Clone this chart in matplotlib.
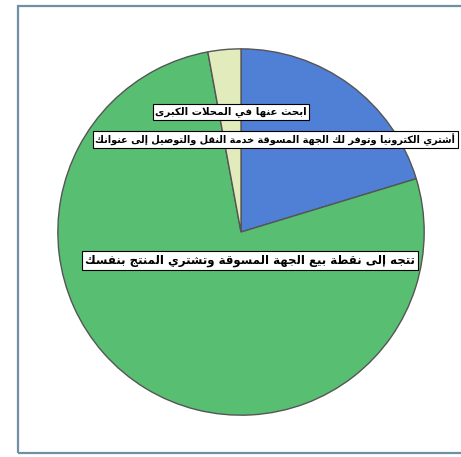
import matplotlib.pyplot as plt
from matplotlib.patches import Rectangle

# نتائج السؤال: كيف تشتري المنتج؟
labels = [
    'أشتري الكترونيا وتوفر لك الجهة المسوقة خدمة النقل والتوصيل إلى عنوانك',
    'تتجه إلى نقطة بيع الجهة المسوقة وتشتري المنتج بنفسك',
    'ابحث عنها في المحلات الكبرى',
]
values = [20.3, 76.8, 2.9]
colors = ['#4f80d6', '#58bf72', '#e2ebbb']

# matplotlib does not shape Arabic, so map letters to presentation forms
# (isolated, final, initial, medial) and reverse for right-to-left display
DUAL = {'ب': 0xFE8F, 'ت': 0xFE95, 'ث': 0xFE99, 'ج': 0xFE9D, 'ح': 0xFEA1,
        'خ': 0xFEA5, 'س': 0xFEB1, 'ش': 0xFEB5, 'ص': 0xFEB9, 'ض': 0xFEBD,
        'ط': 0xFEC1, 'ظ': 0xFEC5, 'ع': 0xFEC9, 'غ': 0xFECD, 'ف': 0xFED1,
        'ق': 0xFED5, 'ك': 0xFED9, 'ل': 0xFEDD, 'م': 0xFEE1, 'ن': 0xFEE5,
        'ه': 0xFEE9, 'ي': 0xFEF1}
RIGHT = {'ا': 0xFE8D, 'أ': 0xFE83, 'إ': 0xFE87, 'آ': 0xFE81, 'د': 0xFEA9,
         'ذ': 0xFEAB, 'ر': 0xFEAD, 'ز': 0xFEAF, 'و': 0xFEED, 'ة': 0xFE93,
         'ى': 0xFEEF}
LAM_ALEF = {'ا': 0xFEFB, 'أ': 0xFEF7, 'إ': 0xFEF9, 'آ': 0xFEF5}


def arabic(text):
    glyphs = []
    joined = False
    i = 0
    while i < len(text):
        c = text[i]
        nxt = text[i + 1] if i + 1 < len(text) else ''
        if c == 'ل' and nxt in LAM_ALEF:
            glyphs.append(chr(LAM_ALEF[nxt] + joined))
            joined = False
            i += 2
            continue
        if c in DUAL:
            links = nxt in DUAL or nxt in RIGHT
            glyphs.append(chr(DUAL[c] + joined + 2 * links))
            joined = links
        elif c in RIGHT:
            glyphs.append(chr(RIGHT[c] + joined))
            joined = False
        else:
            glyphs.append(c)
            joined = False
        i += 1
    return ''.join(reversed(glyphs))


fig = plt.figure(figsize=(4.61, 4.57), dpi=100)
ax = fig.add_axes([0.1215, 0.0875, 0.8026, 0.8096])

ax.pie(values, colors=colors, startangle=90, counterclock=False,
       wedgeprops={'edgecolor': '#555555', 'linewidth': 1.0})
ax.set_xlim(-1.01, 1.01)
ax.set_ylim(-1.01, 1.01)
ax.set_aspect('equal')

# label boxes sit on top of the slices
label_pos = [(0.593, 0.75), (0.525, 0.424), (0.473, 0.825)]
label_size = [7.0, 8.5, 7.4]
for text, (x, y), size in zip(labels, label_pos, label_size):
    ax.text(x, y, arabic(text), transform=ax.transAxes, ha='center', va='center',
            fontsize=size, fontweight='bold', family='DejaVu Sans', color='black',
            bbox={'facecolor': 'white', 'edgecolor': 'black', 'linewidth': 0.8,
                  'boxstyle': 'square,pad=0.25'})

# chart area border
fig.add_artist(Rectangle((0.038, 0.009), 1.0, 0.978, transform=fig.transFigure,
                         fill=False, edgecolor='#6f8fa3', linewidth=1.6))

fig.savefig('out.png', dpi=100)
